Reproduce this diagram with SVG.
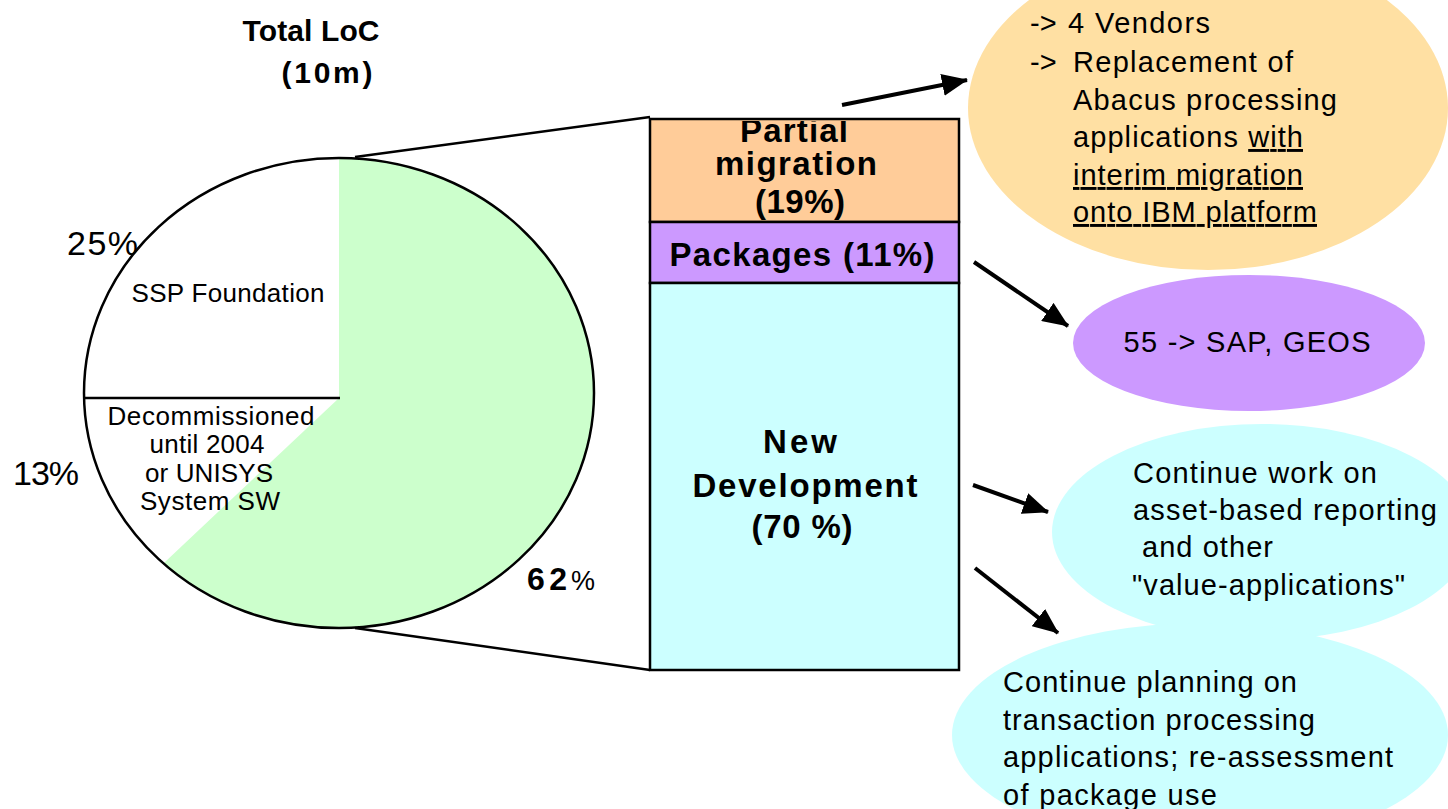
<svg xmlns="http://www.w3.org/2000/svg" width="1448" height="809" viewBox="0 0 1448 809">
<style>
  text { font-family: "Liberation Sans", Arial, sans-serif; fill: #000; }
  .b { font-weight: bold; }
  .pie { font-size: 26px; }
  .pct { font-size: 34px; }
  .bar { font-size: 33px; font-weight: bold; }
  .note { font-size: 29px; }
  .u { text-decoration: underline; }
  .conn { stroke: #000; stroke-width: 4; fill: none; }
  .zoomline { stroke: #000; stroke-width: 2.5; fill: none; }
</style>
<defs>
  <marker id="ah" markerUnits="userSpaceOnUse" markerWidth="26" markerHeight="22" refX="25" refY="11" orient="auto">
    <path d="M0,0 L26,11 L0,22 Z" fill="#000"/>
  </marker>
  <clipPath id="orangeClip"><rect x="650" y="121" width="309" height="101"/></clipPath>
</defs>
<rect width="1448" height="809" fill="#fff"/>

<g id="title">
  <text class="b" x="311" y="41" font-size="30" text-anchor="middle" textLength="137">Total LoC</text>
  <text class="b" x="327" y="83" font-size="30" text-anchor="middle" textLength="91">(10m)</text>
</g>

<g id="pie">
  <ellipse cx="339" cy="393" rx="255" ry="235" fill="#fff"/>
  <path d="M339,398 L339,158 A255,235 0 1 1 163.4,563.4 Z" fill="#CCFFCC"/>
  <ellipse cx="339" cy="393" rx="255" ry="235" fill="none" stroke="#000" stroke-width="2.5"/>
  <line x1="84" y1="398" x2="340" y2="398" stroke="#000" stroke-width="2.5"/>
  <text class="pie" x="228" y="302" text-anchor="middle" textLength="193">SSP Foundation</text>
  <text class="pie" x="211" y="425" text-anchor="middle" textLength="207">Decommissioned</text>
  <text class="pie" x="207" y="453" text-anchor="middle" textLength="115">until 2004</text>
  <text class="pie" x="209" y="482" text-anchor="middle" textLength="128">or UNISYS</text>
  <text class="pie" x="210" y="510" text-anchor="middle" textLength="140">System SW</text>
  <text class="pct" x="67" y="255" textLength="71">25%</text>
  <text class="pct" x="13" y="485" textLength="66">13%</text>
  <text x="527" y="590" font-size="32" class="b" textLength="40">62</text>
  <text x="571" y="590" font-size="27" textLength="24">%</text>
</g>

<g id="bar">
  <rect x="650" y="119" width="309" height="103" fill="#FFCC99" stroke="#000" stroke-width="2.5"/>
  <rect x="650" y="222" width="309" height="61" fill="#CC99FF" stroke="#000" stroke-width="2.5"/>
  <rect x="650" y="283" width="309" height="387" fill="#CCFFFF" stroke="#000" stroke-width="2.5"/>
  <g clip-path="url(#orangeClip)">
    <text class="bar" x="794" y="142" text-anchor="middle" textLength="108">Partial</text>
  </g>
  <text class="bar" x="796" y="175" text-anchor="middle" textLength="162">migration</text>
  <text class="bar" x="800" y="213" text-anchor="middle" textLength="90">(19%)</text>
  <text class="bar" x="802" y="266" text-anchor="middle" textLength="265">Packages (11%)</text>
  <text class="bar" x="800" y="453" text-anchor="middle" textLength="74">New</text>
  <text class="bar" x="805" y="497" text-anchor="middle" textLength="225">Development</text>
  <text class="bar" x="802" y="538" text-anchor="middle" textLength="101">(70 %)</text>
</g>

<g id="note-vendors">
  <ellipse cx="1208" cy="108" rx="240" ry="162" fill="#FFE0A3"/>
  <text class="note" x="1030" y="33">-&gt;</text>
  <text class="note" x="1068" y="33" textLength="142">4 Vendors</text>
  <text class="note" x="1030" y="72">-&gt;</text>
  <text class="note" x="1073" y="72" textLength="220">Replacement of</text>
  <text class="note" x="1073" y="110" textLength="264">Abacus processing</text>
  <text class="note" x="1073" y="147" textLength="230">applications <tspan class="u">with</tspan></text>
  <text class="note u" x="1073" y="185" textLength="230">interim migration</text>
  <text class="note u" x="1073" y="222" textLength="244">onto IBM platform</text>
</g>

<g id="note-packages">
  <ellipse cx="1249" cy="343" rx="176" ry="68" fill="#CC99FF"/>
  <text class="note" x="1247" y="352" text-anchor="middle" textLength="247">55 -&gt; SAP, GEOS</text>
</g>

<g id="note-value">
  <ellipse cx="1262" cy="532" rx="210" ry="108" fill="#CCFFFF"/>
  <text class="note" x="1133" y="483" textLength="244">Continue work on</text>
  <text class="note" x="1133" y="520" textLength="304">asset-based reporting</text>
  <text class="note" x="1142" y="557" textLength="131">and other</text>
  <text class="note" x="1132" y="595" textLength="273">"value-applications"</text>
</g>

<g id="note-transaction">
  <ellipse cx="1200" cy="735" rx="248" ry="112" fill="#CCFFFF"/>
  <text class="note" x="1003" y="692" textLength="294">Continue planning on</text>
  <text class="note" x="1003" y="730" textLength="312">transaction processing</text>
  <text class="note" x="1003" y="767" textLength="390">applications; re-assessment</text>
  <text class="note" x="1003" y="805" textLength="214">of package use</text>
</g>

<g id="connectors">
  <line class="zoomline" x1="355" y1="157" x2="650" y2="117"/>
  <line class="zoomline" x1="355" y1="628" x2="650" y2="670"/>
  <line class="conn" x1="842" y1="105" x2="967" y2="80" marker-end="url(#ah)"/>
  <line class="conn" x1="974" y1="262" x2="1068" y2="326" marker-end="url(#ah)"/>
  <line class="conn" x1="973" y1="485" x2="1048" y2="512" marker-end="url(#ah)"/>
  <line class="conn" x1="975" y1="568" x2="1058" y2="633" marker-end="url(#ah)"/>
</g>
</svg>
